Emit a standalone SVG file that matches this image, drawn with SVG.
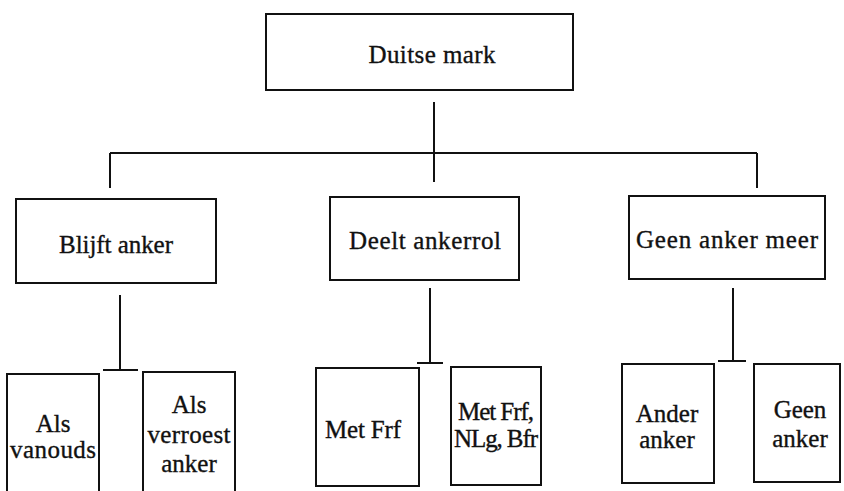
<svg xmlns="http://www.w3.org/2000/svg" width="844" height="491" viewBox="0 0 844 491">
<style>
.box{fill:#fff;stroke:#111;stroke-width:2}
.ln{stroke:#111;stroke-width:2;fill:none}
text{font-family:"Liberation Serif","DejaVu Serif",serif;font-size:25px;fill:#111;stroke:#111;stroke-width:0.35;text-anchor:middle}
</style>
<rect width="844" height="491" fill="#fff"/>
<g id="connectors">
<line class="ln" x1="434" y1="102" x2="434" y2="182"/>
<line class="ln" x1="110" y1="153" x2="757" y2="153"/>
<line class="ln" x1="110" y1="153" x2="110" y2="188"/>
<line class="ln" x1="757" y1="153" x2="757" y2="188"/>
<line class="ln" x1="120" y1="295" x2="120" y2="370"/>
<line class="ln" x1="103" y1="370" x2="138" y2="370"/>
<line class="ln" x1="430" y1="288" x2="430" y2="363"/>
<line class="ln" x1="417" y1="363" x2="443" y2="363"/>
<line class="ln" x1="733" y1="288" x2="733" y2="361"/>
<line class="ln" x1="718" y1="361" x2="746" y2="361"/>
</g>
<g id="duitse-mark"><rect class="box" x="266" y="14" width="307" height="76"/><text x="432" y="63" textLength="127">Duitse mark</text></g>
<g id="blijft-anker"><rect class="box" x="16" y="199" width="200" height="84"/><text x="116" y="253" textLength="114">Blijft anker</text></g>
<g id="deelt-ankerrol"><rect class="box" x="330" y="197" width="189" height="83"/><text x="425" y="249" textLength="152">Deelt ankerrol</text></g>
<g id="geen-anker-meer"><rect class="box" x="629" y="196" width="196" height="83"/><text x="727" y="248" textLength="182">Geen anker meer</text></g>
<g id="als-vanouds"><rect class="box" x="7" y="374" width="92" height="125"/><text x="53" y="432">Als</text><text x="53" y="458" textLength="86">vanouds</text></g>
<g id="als-verroest-anker"><rect class="box" x="143" y="372" width="92" height="127"/><text x="189" y="413">Als</text><text x="189" y="443" textLength="83">verroest</text><text x="189" y="472">anker</text></g>
<g id="met-frf"><rect class="box" x="316" y="368" width="103" height="118"/><text x="363" y="438" textLength="76">Met Frf</text></g>
<g id="met-frf-nlg-bfr"><rect class="box" x="451" y="367" width="90" height="118"/><text x="496" y="420" textLength="76">Met Frf,</text><text x="496" y="447" textLength="84">NLg, Bfr</text></g>
<g id="ander-anker"><rect class="box" x="622" y="364" width="92" height="119"/><text x="667" y="422">Ander</text><text x="667" y="448">anker</text></g>
<g id="geen-anker"><rect class="box" x="754" y="364" width="86" height="118"/><text x="800" y="418">Geen</text><text x="800" y="447">anker</text></g>
</svg>
